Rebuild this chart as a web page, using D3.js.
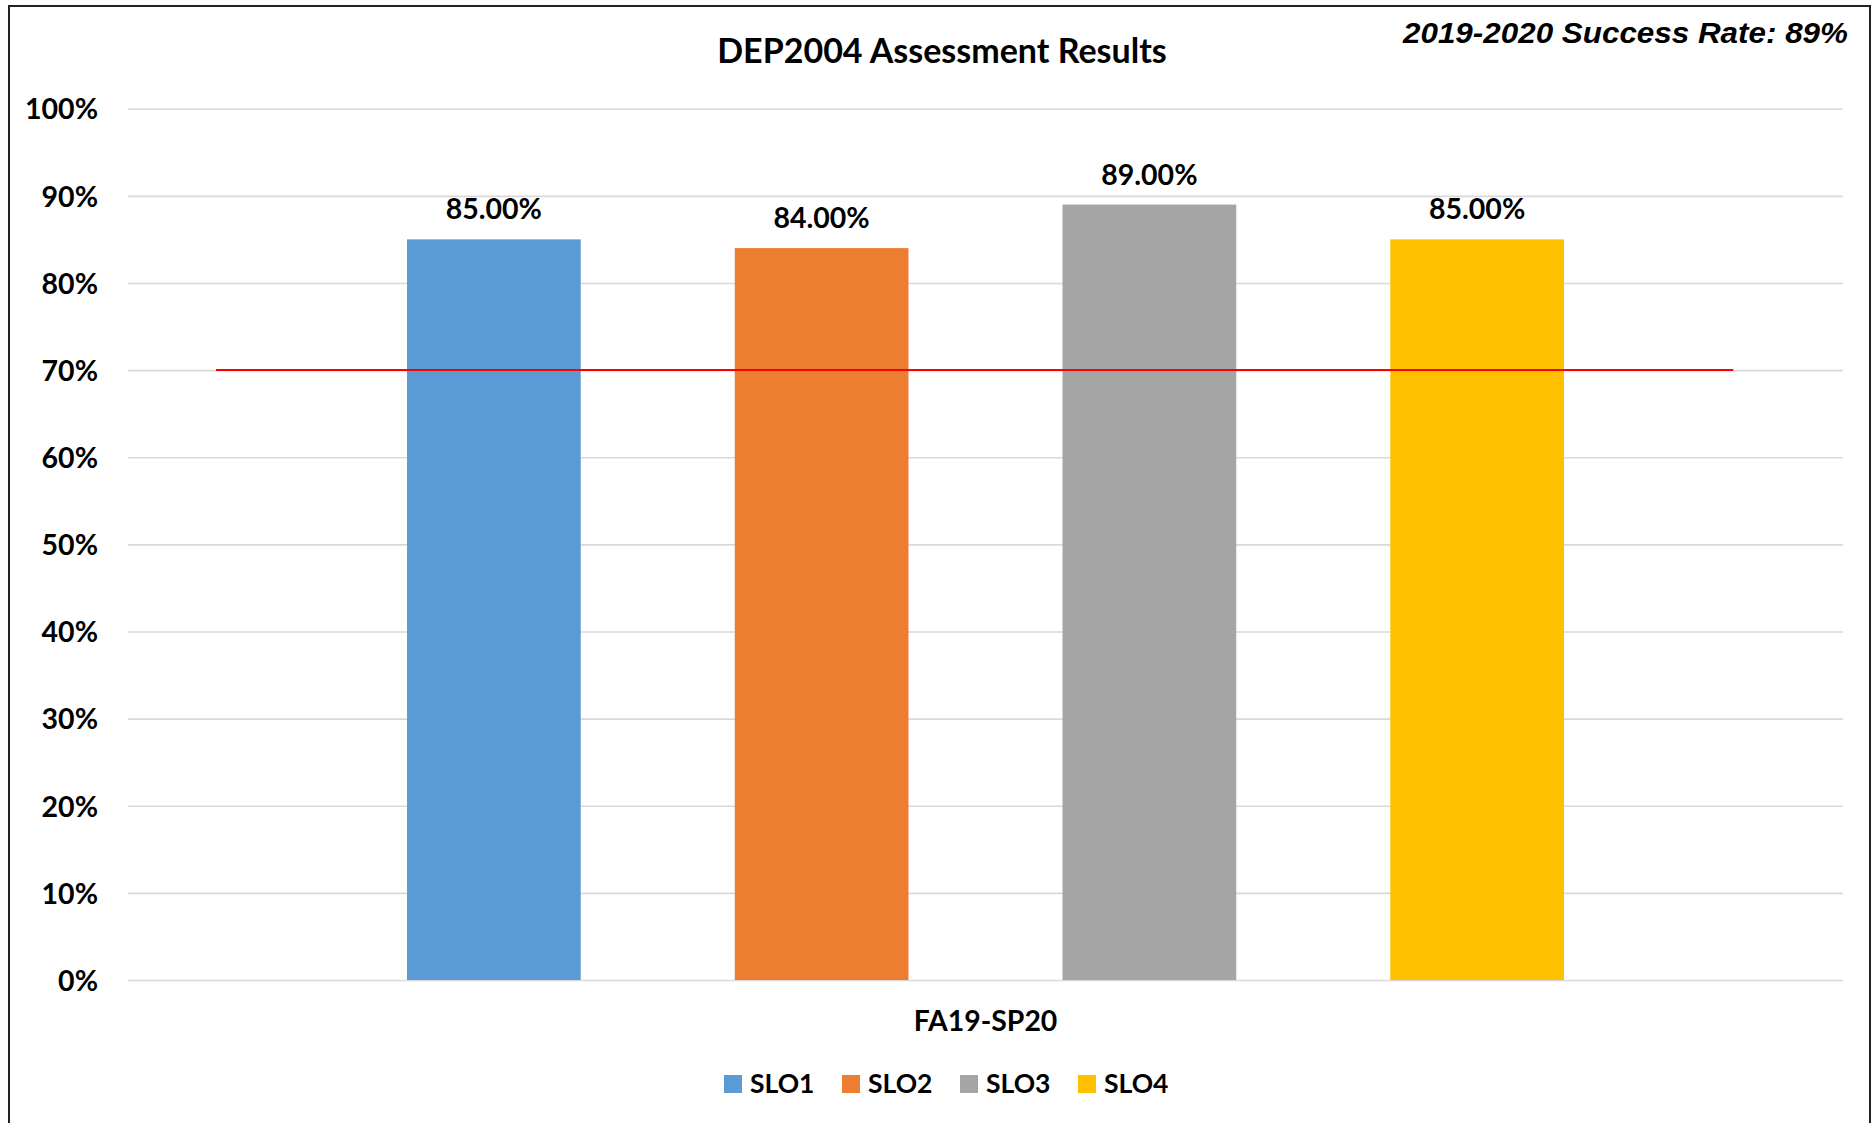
<!DOCTYPE html>
<html lang="en">
<head>
    <meta charset="UTF-8">
    <title>DEP2004 Assessment Results</title>
    <style>
        body{ margin:0; background:#fff;}
        svg{ display:block;}
        text{ font-family:Lato, "Open Sans", sans-serif; font-weight:bold; fill:#000;}
        .grid line{ stroke:#d9d9d9; stroke-width:1.6;}
        .grid .domain{ display:none;}
    </style>
</head>
<body>

<script src="https://cdn.jsdelivr.net/npm/d3@7"></script>
<script>

var categories = ["FA19-SP20"];
var series = ["SLO1", "SLO2", "SLO3", "SLO4"];
var values = [0.85, 0.84, 0.89, 0.85];
var colors = ["#5B9BD5", "#ED7D31", "#A5A5A5", "#FFC000"];
var yTicks = [0, 0.1, 0.2, 0.3, 0.4, 0.5, 0.6, 0.7, 0.8, 0.9, 1];
var target = 0.70;
var targetExtent = [0.0513, 0.936];   // share of the plot width the red line covers

var W = 1875, H = 1123;
var plot = { left:128, right:1843, top:108.7, bottom:980 };

var svg = d3.select("body").append("svg")
        .attr("width", W)
        .attr("height", H);

// outer frame
svg.append("rect")
        .attr("x", 9).attr("y", 6)
        .attr("width", 1861).attr("height", H + 10)
        .attr("fill", "none")
        .attr("stroke", "#222")
        .attr("stroke-width", 2);

var y = d3.scaleLinear().domain([0, 1]).range([plot.bottom, plot.top]);

var x0 = d3.scaleBand().domain(categories).range([plot.left, plot.right]);

// gaps each side of the cluster
var side = 279;
var x1 = d3.scaleBand().domain(series)
        .range([side, x0.bandwidth() - side])
        .paddingInner(0.47);

var xLine = d3.scaleLinear().domain([0, 1]).range([plot.left, plot.right]);

// gridlines
svg.append("g")
        .attr("class", "grid")
        .attr("transform", "translate(" + plot.left + ",0)")
        .call(d3.axisLeft(y).tickValues(yTicks).tickSize(-(plot.right - plot.left)).tickFormat(""));

// y labels
var yAxis = svg.append("g")
        .attr("transform", "translate(" + plot.left + ",0)")
        .call(d3.axisLeft(y).tickValues(yTicks).tickSize(0).tickPadding(30).tickFormat(d3.format(".0%")));
yAxis.select(".domain").remove();
yAxis.selectAll("text")
        .attr("dy", "0.36em")
        .style("font-family", "Lato, sans-serif")
        .style("font-weight", "bold")
        .style("font-size", "28.5px")
        .attr("fill", "#000");

// bars
var group = svg.selectAll(".cat")
        .data(categories)
        .enter().append("g")
        .attr("transform", function(d){ return "translate(" + x0(d) + ",0)"; });

group.selectAll("rect")
        .data(series)
        .enter().append("rect")
        .attr("x", function(d){ return x1(d); })
        .attr("y", function(d, i){ return y(values[i]); })
        .attr("width", x1.bandwidth())
        .attr("height", function(d, i){ return y(0) - y(values[i]); })
        .attr("fill", function(d, i){ return colors[i]; });

group.selectAll(".lbl")
        .data(series)
        .enter().append("text")
        .attr("class", "lbl")
        .attr("x", function(d){ return x1(d) + x1.bandwidth()/2; })
        .attr("y", function(d, i){ return y(values[i]) - 20; })
        .attr("text-anchor", "middle")
        .style("font-size", "28.5px")
        .text(function(d, i){ return d3.format(".2%")(values[i]); });

// 70% target line
svg.append("line")
        .attr("x1", xLine(targetExtent[0]))
        .attr("x2", xLine(targetExtent[1]))
        .attr("y1", y(target))
        .attr("y2", y(target))
        .attr("stroke", "#ff0000")
        .attr("stroke-width", 2);

// category label
svg.selectAll(".catlbl")
        .data(categories)
        .enter().append("text")
        .attr("x", function(d){ return x0(d) + x0.bandwidth()/2; })
        .attr("y", 1031)
        .attr("text-anchor", "middle")
        .style("font-size", "28.4px")
        .text(function(d){ return d; });

// title
svg.append("text")
        .attr("x", 942)
        .attr("y", 63)
        .attr("text-anchor", "middle")
        .style("font-size", "34px")
        .text("DEP2004 Assessment Results");

svg.append("text")
        .attr("x", 1848)
        .attr("y", 43)
        .attr("text-anchor", "end")
        .attr("textLength", 445)
        .attr("lengthAdjust", "spacingAndGlyphs")
        .style("font-family", "'Liberation Sans', Arial, sans-serif")
        .style("font-style", "italic")
        .style("font-size", "29px")
        .text("2019-2020 Success Rate: 89%");

// legend
var legend = svg.append("g").attr("transform", "translate(724,1075)");
var item = legend.selectAll("g")
        .data(series)
        .enter().append("g")
        .attr("transform", function(d, i){ return "translate(" + (i * 118) + ",0)"; });

item.append("rect")
        .attr("width", 18).attr("height", 18)
        .attr("fill", function(d, i){ return colors[i]; });

item.append("text")
        .attr("x", 26)
        .attr("y", 18)
        .style("font-size", "26.5px")
        .text(function(d){ return d; });

</script>

</body>
</html>
